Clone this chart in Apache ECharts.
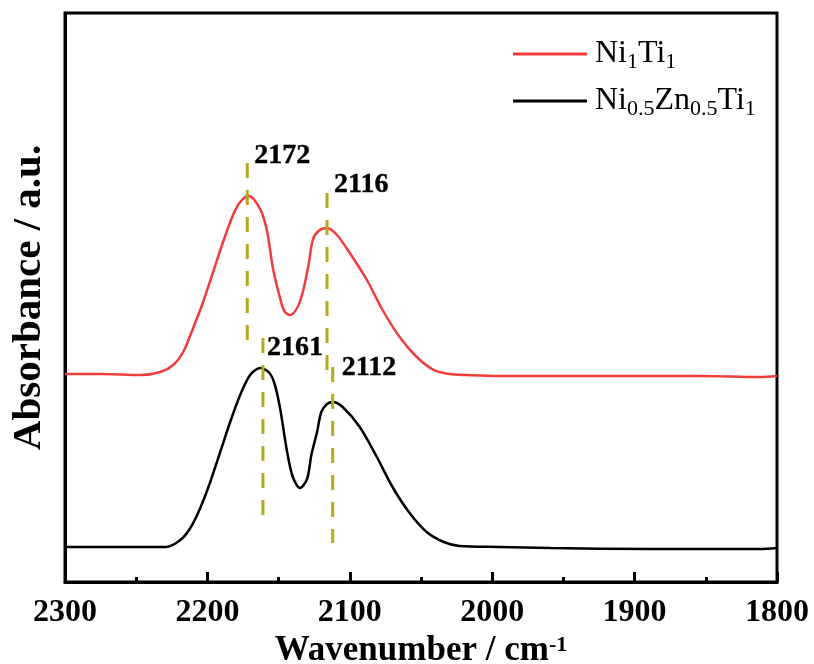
<!DOCTYPE html>
<html>
<head>
<meta charset="utf-8">
<script src="https://cdn.jsdelivr.net/npm/echarts@6/dist/echarts.min.js"></script>
<style>
  html, body { margin: 0; padding: 0; background: #fff; }
  #chart { width: 814px; height: 664px; }
</style>
</head>
<body>
<div id="chart"></div>
<script>
// Ni1Ti1 spectrum (red)
var wnRed = [2300, 2275, 2247, 2233, 2224, 2217, 2210, 2203, 2196, 2189, 2182, 2177, 2171, 2167, 2162, 2158, 2154, 2149, 2146, 2142, 2137, 2133, 2129, 2126, 2122, 2116, 2109, 2100, 2088, 2077, 2065, 2053, 2041, 2030, 2018, 1995, 1924, 1854, 1812, 1800];
var absRed = [208, 208, 207, 210, 217, 230, 254, 280, 310, 340, 367, 380, 386, 382, 370, 350, 314, 284, 271, 267, 274, 290, 317, 342, 351, 354, 347, 329, 302, 272, 245, 225, 212, 208, 207, 206, 206, 206, 205, 206];

// Ni0.5Zn0.5Ti1 spectrum (black)
var wnBlack = [2300, 2261, 2247, 2229, 2219, 2212, 2205, 2198, 2191, 2184, 2177, 2170, 2163, 2157, 2153, 2149, 2144, 2140, 2135, 2130, 2127, 2123, 2120, 2116, 2112, 2105, 2093, 2081, 2070, 2058, 2046, 2034, 2023, 1995, 1959, 1889, 1812, 1800];
var absBlack = [35, 35, 35, 35, 42, 54, 74, 100, 130, 160, 187, 207, 214, 210, 199, 174, 130, 105, 94, 103, 127, 150, 170, 178, 180, 175, 155, 125, 95, 69, 50, 40, 36, 35, 34, 33, 33, 34];

// peak markers
var peakWn = [2172, 2116, 2161, 2112];
var peakTop = [419, 389, 244, 215];
var peakBottom = [240, 212, 67, 39];
var peakLabels = ['2172', '2116', '2161', '2112'];

var xTicks = [2300, 2200, 2100, 2000, 1900, 1800];

// label placement next to each marker: [gap to the right, vertical shift]
var labelOffsets = [[7, -7], [7, -8], [4, 10], [9, 1]];

var serif = 'Liberation Serif';
var chart = echarts.init(document.getElementById('chart'));

function pairs(xs, ys) {
  return xs.map(function (x, i) { return [x, ys[i]]; });
}

var peakSeries = peakWn.map(function (wn, i) {
  return {
    type: 'line',
    silent: true,
    symbol: 'none',
    z: 5,
    lineStyle: { color: '#b5a820', width: 3, type: [15, 12] },
    data: [[wn, peakTop[i]], [wn, peakBottom[i]]]
  };
});

var labelSeries = {
  type: 'scatter',
  silent: true,
  symbol: 'circle',
  symbolSize: 0,
  z: 6,
  itemStyle: { color: '#000' },
  label: {
    show: true,
    position: 'right',
    color: '#000',
    opacity: 1,
    fontFamily: serif,
    fontWeight: 'bold',
    fontSize: 28,
    textBorderColor: '#000',
    textBorderWidth: 0.4
  },
  data: peakWn.map(function (wn, i) {
    return {
      value: [wn, peakTop[i]],
      label: {
        distance: labelOffsets[i][0],
        offset: [0, labelOffsets[i][1]],
        formatter: peakLabels[i]
      }
    };
  })
};

var option = {
  animation: false,
  backgroundColor: '#fff',
  grid: {
    left: 65, right: 37, top: 13, bottom: 82,
    outerBoundsMode: 'none',
    containLabel: false,
    show: true, borderColor: '#000', borderWidth: 3
  },
  legend: {
    orient: 'vertical',
    left: 513,
    top: 38,
    padding: 0,
    itemWidth: 74,
    itemHeight: 3,
    itemGap: 12,
    icon: 'rect',
    data: ['Ni1Ti1', 'Ni0.5Zn0.5Ti1'],
    formatter: function (name) {
      if (name === 'Ni1Ti1') return '{g|}{n|Ni}{s|1}{n|Ti}{s|1}';
      return '{g|}{n|Ni}{s|0.5}{n|Zn}{s|0.5}{n|Ti}{s|1}';
    },
    textStyle: {
      fontFamily: serif,
      color: '#000',
      rich: {
        g: { width: 3 },
        n: { fontFamily: serif, fontSize: 32, color: '#000', lineHeight: 38 },
        s: { fontFamily: serif, fontSize: 22, color: '#000', lineHeight: 16, verticalAlign: 'bottom' }
      }
    }
  },
  xAxis: {
    type: 'value',
    min: 1800,
    max: 2300,
    interval: 100,
    inverse: true,
    name: 'Wavenumber / cm{sup|-1}',
    nameLocation: 'middle',
    nameGap: 48,
    nameTextStyle: {
      fontFamily: serif, fontWeight: 'bold', fontSize: 35, color: '#000',
      rich: {
        sup: { fontFamily: serif, fontWeight: 'bold', fontSize: 22, color: '#000', verticalAlign: 'top', lineHeight: 22 }
      }
    },
    axisLine: { lineStyle: { color: '#000', width: 3 } },
    axisTick: { inside: true, length: 10, lineStyle: { color: '#000', width: 3 } },
    minorTick: { show: true, splitNumber: 2, length: 5, lineStyle: { color: '#000', width: 3 } },
    splitLine: { show: false },
    axisLabel: {
      margin: 15,
      fontFamily: serif, fontWeight: 'bold', fontSize: 32, color: '#000',
      formatter: function (v) { return xTicks.indexOf(v) >= 0 ? String(v) : ''; }
    }
  },
  yAxis: {
    type: 'value',
    min: 0,
    max: 569,
    name: 'Absorbance / a.u.',
    nameLocation: 'middle',
    nameGap: 15,
    nameTextStyle: { fontFamily: serif, fontWeight: 'bold', fontSize: 41, color: '#000' },
    axisLine: { show: true, lineStyle: { color: '#000', width: 3 } },
    axisTick: { show: false },
    axisLabel: { show: false },
    splitLine: { show: false }
  },
  series: [
    {
      name: 'Ni1Ti1',
      type: 'line',
      symbol: 'none',
      smooth: 0.3,
      color: '#f03c3c',
      lineStyle: { color: '#f03c3c', width: 2.5 },
      data: pairs(wnRed, absRed)
    },
    {
      name: 'Ni0.5Zn0.5Ti1',
      type: 'line',
      symbol: 'none',
      smooth: 0.3,
      color: '#000',
      lineStyle: { color: '#000', width: 2.5 },
      data: pairs(wnBlack, absBlack)
    }
  ].concat(peakSeries, [labelSeries])
};

chart.setOption(option);
</script>
</body>
</html>
